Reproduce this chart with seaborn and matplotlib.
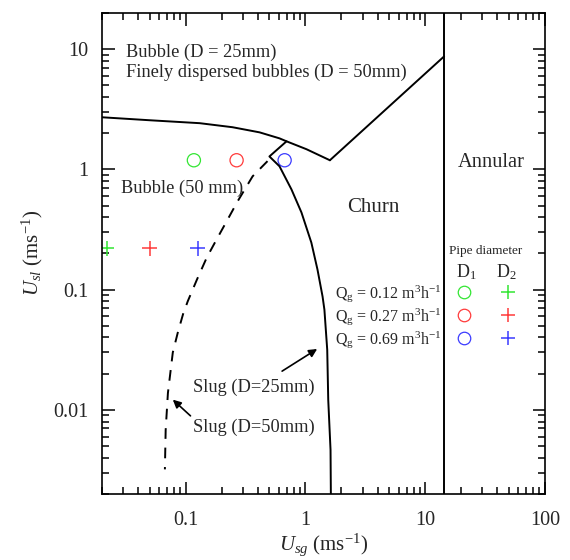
import numpy as np
import pandas as pd
import matplotlib.pyplot as plt
import seaborn as sns
from matplotlib.lines import Line2D
from matplotlib.legend_handler import HandlerTuple
from matplotlib.ticker import LogLocator, FuncFormatter, NullFormatter

# regime boundaries (Usg, Usl in m/s)
bubble_usg = [0.02, 0.05, 0.131, 0.246, 0.414, 0.607, 0.695, 1.02, 1.6]
bubble_usl = [2.71, 2.56, 2.42, 2.24, 2.03, 1.81, 1.71, 1.47, 1.19]

churn_usg = [1.6, 14.4]
churn_usl = [1.19, 8.7]

annular_usg = 14.4

slug25_usg = [0.695, 0.50, 0.607, 0.764, 0.926, 1.12, 1.26, 1.39, 1.44, 1.52, 1.55, 1.62, 1.63]
slug25_usl = [1.71, 1.28, 1.06, 0.681, 0.438, 0.246, 0.147, 0.0875, 0.068, 0.0316, 0.0121, 0.00464, 0.002]

slug50_usg = [0.482, 0.362, 0.271, 0.224, 0.181, 0.150, 0.124, 0.104, 0.095, 0.0858, 0.078, 0.071, 0.068, 0.067]
slug50_usl = [1.17, 0.875, 0.541, 0.383, 0.261, 0.185, 0.121, 0.08, 0.0625, 0.0438, 0.030, 0.0138, 0.0068, 0.0032]

# test points
qg_labels = ['0.12', '0.27', '0.69']
qg_colors = ['#33e633', '#ff3b3b', '#3b3bff']
d1_usg = [0.117, 0.266, 0.67]
d1_usl = [1.19, 1.19, 1.19]
d2_usg = [0.022, 0.05, 0.126]
d2_usl = [0.22, 0.22, 0.22]

sns.set_style('ticks')
plt.rcParams['font.family'] = ['Liberation Serif', 'DejaVu Serif']
plt.rcParams['mathtext.fontset'] = 'custom'
plt.rcParams['mathtext.rm'] = 'Liberation Serif'
plt.rcParams['mathtext.it'] = 'Liberation Serif:italic'

fig = plt.figure(figsize=(5.7, 5.6), dpi=100)
ax = fig.add_axes([0.179, 0.118, 0.777, 0.859])
ax.set(xscale='log', yscale='log')

lw = 1.4
sns.lineplot(x=bubble_usg, y=bubble_usl, sort=False, color='black', lw=lw, ax=ax)
sns.lineplot(x=churn_usg, y=churn_usl, sort=False, color='black', lw=lw, ax=ax)
sns.lineplot(x=slug25_usg, y=slug25_usl, sort=False, color='black', lw=lw, ax=ax)
sns.lineplot(x=slug50_usg, y=slug50_usl, sort=False, color='black', lw=lw,
             linestyle=(0, (5.5, 4.5)), ax=ax)
ax.axvline(annular_usg, color='black', lw=lw)

pts1 = pd.DataFrame({'usg': d1_usg, 'usl': d1_usl, 'qg': qg_labels})
pts2 = pd.DataFrame({'usg': d2_usg, 'usl': d2_usl, 'qg': qg_labels})
sns.scatterplot(data=pts1, x='usg', y='usl', hue='qg', palette=qg_colors,
                marker='o', s=90, linewidth=0.9, legend=False, ax=ax)
ax.collections[-1].set_facecolor('none')
ax.collections[-1].set_edgecolor(qg_colors)
sns.scatterplot(data=pts2, x='usg', y='usl', hue='qg', palette=qg_colors,
                marker='+', s=110, linewidth=1.1, legend=False, ax=ax)

ax.set_xlim(0.02, 100)
ax.set_ylim(0.002, 20)

fmt = FuncFormatter(lambda v, _: f'{v:g}')
for axis in (ax.xaxis, ax.yaxis):
    axis.set_major_locator(LogLocator(base=10))
    axis.set_minor_locator(LogLocator(base=10, subs=np.arange(2, 10)))
    axis.set_major_formatter(fmt)
    axis.set_minor_formatter(NullFormatter())
ax.tick_params(which='both', direction='in', top=True, right=True, width=1.1,
               labelsize=14.5, color='black')
ax.tick_params(which='major', length=9)
ax.tick_params(which='minor', length=5)
ax.tick_params(axis='x', pad=12)
ax.tick_params(axis='y', pad=10)
for s in ax.spines.values():
    s.set_linewidth(1.2)
    s.set_color('black')

ax.set_xlabel(r'$U_{sg}$ (ms$^{-1}$)', fontsize=15, labelpad=1)
ax.set_ylabel(r'$U_{sl}$ (ms$^{-1}$)', fontsize=15, labelpad=6)

# region labels
ax.text(0.032, 9.4, 'Bubble (D = 25mm)', fontsize=13.2, va='center')
ax.text(0.032, 6.4, 'Finely dispersed bubbles (D = 50mm)', fontsize=13.2, va='center')
ax.text(0.0287, 0.69, 'Bubble (50 mm)', fontsize=13.2, va='center')
ax.text(3.69, 0.48, 'Churn', fontsize=15, ha='center', va='center')
ax.text(36, 1.14, 'Annular', fontsize=14.7, ha='center', va='center')
ax.text(0.114, 0.0153, 'Slug (D=25mm)', fontsize=13.2, va='center')
ax.text(0.114, 0.0071, 'Slug (D=50mm)', fontsize=13.2, va='center')
ax.annotate('', xy=(1.31, 0.033), xytext=(0.61, 0.0204),
            arrowprops=dict(arrowstyle='-|>', color='black', lw=1.2, mutation_scale=12))
ax.annotate('', xy=(0.075, 0.0126), xytext=(0.114, 0.0086),
            arrowprops=dict(arrowstyle='-|>', color='black', lw=1.2, mutation_scale=12))

# legend: D1 circle and D2 plus side by side for each gas flow rate
handles = [(Line2D([], [], ls='none', marker='o', ms=9, mfc='none', mec=c, mew=0.9),
            Line2D([], [], ls='none', marker='+', ms=10, color=c, mew=1.1))
           for c in qg_colors]
labels = [r'Q$_\mathregular{g}$ = ' + q + r' m$^\mathregular{3}$h$^{-1}$' for q in qg_labels]
ax.legend(handles, labels, markerfirst=False, frameon=False,
          handler_map={tuple: HandlerTuple(ndivide=None, pad=1.0)},
          loc='upper right', bbox_to_anchor=(0.948, 0.439), fontsize=11.5,
          handlelength=4.5, handletextpad=0.5,
          labelspacing=0.13, borderpad=0, borderaxespad=0)
ax.text(0.867, 0.505, 'Pipe diameter', transform=ax.transAxes, fontsize=9.5,
        ha='center', va='center')
ax.text(0.822, 0.462, r'D$_1$', transform=ax.transAxes, fontsize=13, ha='center', va='center')
ax.text(0.914, 0.462, r'D$_2$', transform=ax.transAxes, fontsize=13, ha='center', va='center')

fig.savefig('out.png', dpi=100)
